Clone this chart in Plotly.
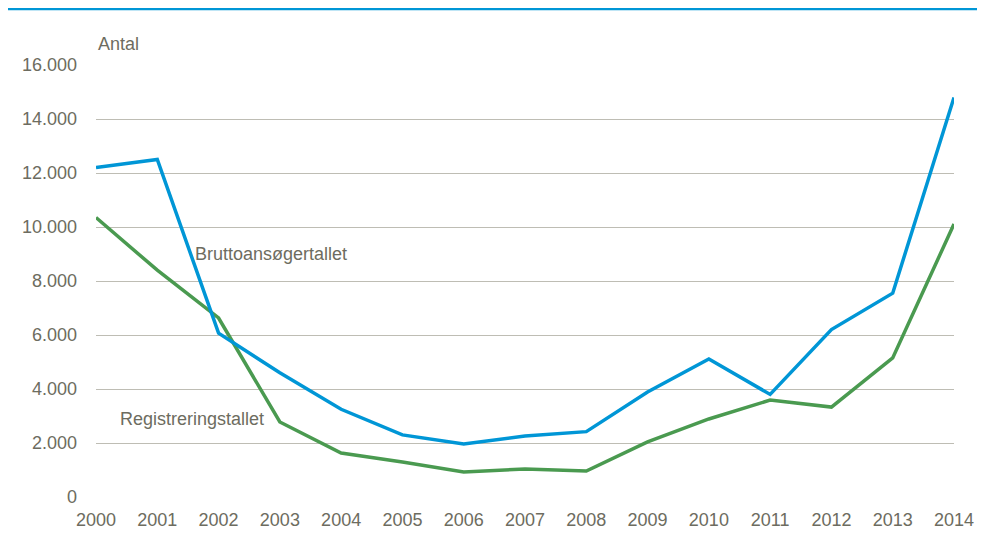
import plotly.graph_objects as go

years = list(range(2000, 2015))
brutto = [12200, 12500, 6070, 4600, 3250, 2300, 1960, 2260, 2420, 3890, 5110, 3800, 6200, 7550, 14800]
registrering = [10350, 8400, 6630, 2780, 1630, 1300, 930, 1040, 960, 2040, 2890, 3590, 3330, 5150, 10110]
y_ticks = [0, 2000, 4000, 6000, 8000, 10000, 12000, 14000, 16000]
y_tick_labels = ["0", "2.000", "4.000", "6.000", "8.000", "10.000", "12.000", "14.000", "16.000"]

FONT = "Liberation Sans, Arial, sans-serif"
TXT = "#6d6c60"

# page has an 8px body margin; figure sized to fit 985x535 window
W, H = 977, 527
ML, MR, MT, MB = 88, 31, 57, 38
PH = H - MT - MB

fig = go.Figure()
fig.add_trace(go.Scatter(x=years, y=registrering, mode="lines", name="Registreringstallet",
                         line=dict(color="#4a9a50", width=3.5)))
fig.add_trace(go.Scatter(x=years, y=brutto, mode="lines", name="Bruttoansøgertallet",
                         line=dict(color="#0096d6", width=3.5)))

top_line_y = (H - MB - 1) / PH

fig.update_layout(
    width=W, height=H,
    margin=dict(l=ML, r=MR, t=MT, b=MB),
    paper_bgcolor="white", plot_bgcolor="white",
    showlegend=False,
    font=dict(family=FONT, color=TXT, size=17),
    xaxis=dict(range=[2000, 2014], tickvals=years, ticktext=[str(y) for y in years],
               showgrid=False, zeroline=False, showline=False, ticks="",
               ticklabelstandoff=10, automargin=False,
               tickfont=dict(size=18, color=TXT)),
    yaxis=dict(range=[0, 16000], tickvals=y_ticks, ticktext=y_tick_labels,
               showgrid=True, gridcolor="#bebdb4", gridwidth=1.2, zeroline=False,
               showline=False, ticks="", ticklabelstandoff=18, automargin=False,
               tickfont=dict(size=18, color=TXT)),
    shapes=[dict(type="line", xref="paper", yref="paper",
                 x0=-ML / (W - ML - MR), x1=1 + MR / (W - ML - MR),
                 y0=top_line_y, y1=top_line_y,
                 line=dict(color="#0096d6", width=2.5))],
    annotations=[
        dict(text="Antal", x=2000, y=(PH + 21) / PH, xref="x", yref="paper",
             xanchor="left", yanchor="middle", showarrow=False, font=dict(size=18, color=TXT)),
        dict(text="Bruttoansøgertallet", x=2002.85, y=9000, xref="x", yref="y",
             showarrow=False, font=dict(size=18, color=TXT)),
        dict(text="Registreringstallet", x=2001.57, y=2890, xref="x", yref="y",
             showarrow=False, font=dict(size=18, color=TXT)),
    ],
)

fig.write_html("out.html")
